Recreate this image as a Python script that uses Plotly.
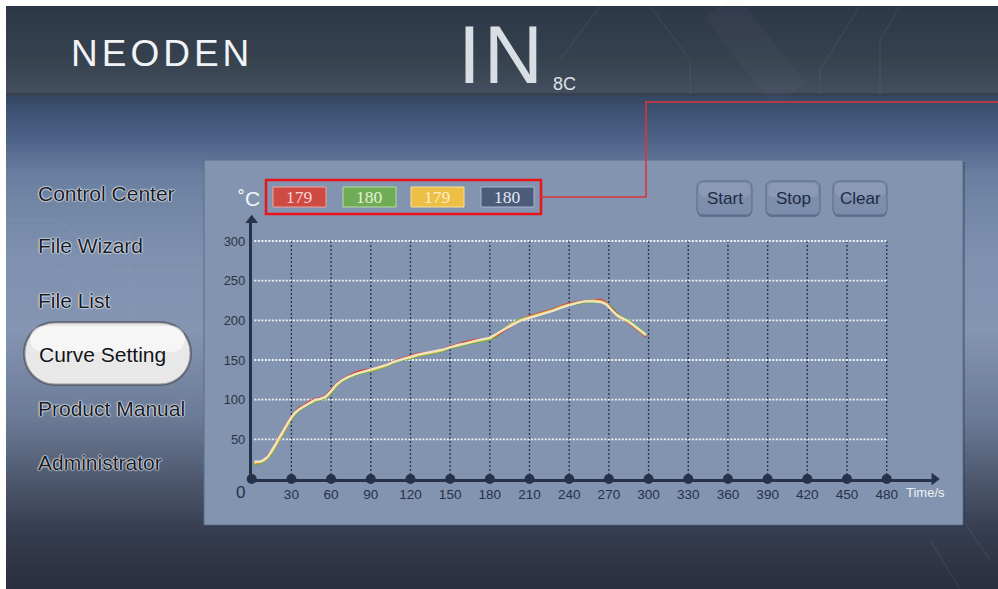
import plotly.graph_objects as go

W, H = 998, 589

# ---------------- data ----------------
time_s = [2, 4, 6, 8, 10, 12, 14, 16, 18, 20, 22, 24, 26, 28, 30, 33, 36, 40, 44, 48,
          52, 56, 60, 64, 68, 72, 78, 84, 90, 96, 102, 108, 114, 120, 126, 132, 138, 144, 150, 156,
          162, 168, 174, 180, 184, 188, 192, 196, 200, 204, 210, 216, 222, 228, 234, 240, 246, 252, 258, 264,
          268, 272, 276, 280, 284, 288, 292, 296, 298]
temp_red = [21, 20, 21, 23, 25, 29, 33, 38, 45, 51, 57, 63, 69, 74, 79, 85, 90, 93, 98, 101,
            102, 105, 112, 120, 125, 129, 134, 137, 138, 141, 144, 149, 152, 155, 158, 159, 161, 163, 167, 170,
            173, 175, 176, 178, 180, 184, 189, 193, 197, 200, 205, 208, 211, 214, 218, 221, 223, 224, 225, 226,
            222, 215, 208, 203, 199, 193, 188, 183, 179]
temp_green = [19, 19, 20, 21, 23, 26, 30, 35, 41, 47, 53, 59, 65, 71, 76, 82, 87, 91, 95, 98,
              100, 102, 108, 117, 123, 126, 131, 134, 136, 139, 142, 147, 150, 152, 155, 157, 159, 161, 165, 167,
              170, 172, 174, 176, 179, 184, 190, 195, 199, 202, 204, 206, 209, 212, 216, 219, 221, 223, 223, 223,
              221, 216, 209, 204, 201, 196, 191, 186, 183]
temp_yellow = [20, 21, 21, 22, 24, 27, 31, 36, 42, 48, 54, 60, 66, 72, 77, 83, 88, 92, 96, 99,
               101, 103, 110, 118, 124, 127, 132, 135, 137, 140, 143, 148, 151, 153, 156, 158, 160, 162, 166, 168,
               171, 173, 175, 177, 181, 186, 191, 195, 198, 201, 204, 207, 210, 213, 217, 220, 222, 224, 225, 224,
               221, 213, 206, 202, 199, 194, 189, 184, 181]
temp_navy = [22, 22, 22, 23, 25, 28, 33, 38, 44, 50, 56, 62, 67, 73, 78, 84, 88, 92, 96, 100,
             101, 104, 111, 119, 124, 128, 132, 135, 138, 141, 144, 148, 151, 154, 157, 159, 161, 163, 166, 169,
             171, 174, 176, 178, 182, 186, 190, 194, 197, 200, 203, 206, 209, 212, 216, 219, 222, 224, 224, 223,
             220, 213, 207, 203, 200, 195, 190, 185, 182]
readouts = ["179", "180", "179", "180"]
x_ticks = [30, 60, 90, 120, 150, 180, 210, 240, 270, 300, 330, 360, 390, 420, 450, 480]
x_marks = [0] + x_ticks
y_ticks = [50, 100, 150, 200, 250, 300]
menu_items = ["Control Center", "File Wizard", "File List", "Curve Setting", "Product Manual", "Administrator"]
button_labels = ["Start", "Stop", "Clear"]

# ---------------- helpers ----------------
SANS = "Liberation Sans, Arial, sans-serif"
SERIF = "Liberation Serif, Times New Roman, serif"


def px(x):
    return x / W


def py(y):
    return 1 - y / H


def hex2rgb(h):
    h = h.lstrip("#")
    return tuple(int(h[i:i + 2], 16) for i in (0, 2, 4))


def mix(c1, c2, t):
    a, b = hex2rgb(c1), hex2rgb(c2)
    return "rgb(%d,%d,%d)" % tuple(round(a[i] + (b[i] - a[i]) * t) for i in range(3))


def grad_bands(x0, x1, stops, step=3):
    out = []
    y = stops[0][0]
    end = stops[-1][0]
    while y < end:
        yc = y + step / 2
        col = stops[-1][1]
        for i in range(len(stops) - 1):
            if stops[i][0] <= yc <= stops[i + 1][0]:
                t = (yc - stops[i][0]) / (stops[i + 1][0] - stops[i][0])
                col = mix(stops[i][1], stops[i + 1][1], t)
                break
        out.append(dict(type="rect", xref="paper", yref="paper", layer="below",
                        x0=px(x0), x1=px(x1), y0=py(min(y + step, end)), y1=py(y),
                        fillcolor=col, line=dict(width=0)))
        y += step
    return out


def P(x, y):
    return "%.5f,%.5f" % (px(x), py(y))


def rrect_path(x0, y0, x1, y1, r):
    k = 0.5523 * r
    return ("M" + P(x0 + r, y0) + " L" + P(x1 - r, y0) +
            " C" + P(x1 - r + k, y0) + " " + P(x1, y0 + r - k) + " " + P(x1, y0 + r) +
            " L" + P(x1, y1 - r) +
            " C" + P(x1, y1 - r + k) + " " + P(x1 - r + k, y1) + " " + P(x1 - r, y1) +
            " L" + P(x0 + r, y1) +
            " C" + P(x0 + r - k, y1) + " " + P(x0, y1 - r + k) + " " + P(x0, y1 - r) +
            " L" + P(x0, y0 + r) +
            " C" + P(x0, y0 + r - k) + " " + P(x0 + r - k, y0) + " " + P(x0 + r, y0) + " Z")


def rrect(x0, y0, x1, y1, r, fill, line=None, lw=0, layer="below"):
    return dict(type="path", xref="paper", yref="paper", layer=layer, path=rrect_path(x0, y0, x1, y1, r),
                fillcolor=fill, line=dict(color=line or fill, width=lw))


def rect(x0, y0, x1, y1, fill, line=None, lw=0, layer="below"):
    return dict(type="rect", xref="paper", yref="paper", layer=layer,
                x0=px(x0), x1=px(x1), y0=py(y1), y1=py(y0),
                fillcolor=fill, line=dict(color=line or fill, width=lw))


def seg(pts, color, width, layer="below", dash=None):
    path = "M" + " L".join(P(x, y) for x, y in pts)
    ln = dict(color=color, width=width)
    if dash:
        ln["dash"] = dash
    return dict(type="path", xref="paper", yref="paper", layer=layer, path=path, line=ln)


shapes = []
# body background
shapes += grad_bands(6, 998, [(95, "#33465f"), (110, "#3d5173"), (140, "#4e6388"), (175, "#6a7fa0"),
                              (260, "#7f91af"), (330, "#8495b2"), (420, "#6a7a95"), (480, "#4d586e"),
                              (530, "#363d50"), (589, "#2a2f3f")])
# header
shapes += grad_bands(6, 998, [(6, "#2c3748"), (60, "#37424f"), (93, "#434e5f"), (96, "#2b3443")], step=3)
# faint circuit decorations
deco = "rgba(160,180,205,0.08)"
shapes += [
    seg([(650, 6), (690, 60), (690, 95)], deco, 1.5),
    seg([(600, 6), (560, 60)], deco, 1.5),
    seg([(720, 6), (790, 95)], "rgba(170,185,210,0.04)", 40),
    seg([(860, 6), (820, 70), (820, 95)], deco, 1.5),
    seg([(900, 6), (880, 40), (880, 95)], deco, 1.5),
    seg([(6, 220), (60, 220), (110, 270), (200, 270)], deco, 2),
    seg([(6, 250), (40, 250), (90, 300), (200, 300)], deco, 2),
    seg([(130, 230), (130, 320)], deco, 2),
    seg([(963, 520), (990, 560)], deco, 2),
    seg([(930, 540), (960, 589)], deco, 2),
]
# chart panel
shapes.append(rect(206, 162, 965, 527, "rgba(30,40,60,0.35)"))
shapes.append(rect(204, 160, 963, 525, "#8294af", "#5c6c87", 1))

# selected menu pill
shapes.append(rrect(23, 321, 192, 386, 32, "#5d6374"))
shapes.append(rrect(25, 323, 190, 384, 30, "#e8e8e8", "#9b9b9b", 1))
shapes.append(rrect(30, 326, 185, 352, 13, "rgba(255,255,255,0.6)"))

# buttons
btn_x = [(697, 752), (766, 820), (833, 887)]
for bx0, bx1 in btn_x:
    shapes.append(rrect(bx0, 183, bx1, 217, 6, "rgba(40,52,75,0.35)"))
    shapes.append(rrect(bx0, 181, bx1, 215, 6, "#7d8ead", "#5b6b87", 1))
    shapes.append(rrect(bx0 + 2, 183, bx1 - 2, 197, 5, "rgba(255,255,255,0.10)"))

# readout boxes
box_x = [273, 343, 411, 481]
box_fill = ["#cf4a43", "#70ab55", "#eebf45", "#4b5b7a"]
box_line = ["#eda59e", "#b9dca2", "#f8e09a", "#a9b5cb"]
for bx, f, l in zip(box_x, box_fill, box_line):
    shapes.append(rect(bx, 187, bx + 53, 207, f, l, 1))
# red frame and connector
shapes.append(dict(type="rect", xref="paper", yref="paper", layer="above",
                   x0=px(266), x1=px(541), y0=py(214), y1=py(180),
                   line=dict(color="#e8141a", width=2.5)))
shapes.append(seg([(541, 197), (646, 197), (646, 102), (998, 102)], "#d8363a", 1.6, layer="above"))

# ---------------- axes geometry ----------------
X0_PX, X480_PX = 251.7, 886.7
PXS = (X480_PX - X0_PX) / 480
XMAX = 516
Y0_PX, Y300_PX = 479, 241
PYS = (Y0_PX - Y300_PX) / 300
YMAX = 326
xdom = [X0_PX / W, (X0_PX + XMAX * PXS) / W]
ydom = [py(Y0_PX), py(Y0_PX - YMAX * PYS)]

fig = go.Figure()

# grid lines
gx, gy = [], []
for t in x_ticks:
    gx += [t, t, None]
    gy += [0, y_ticks[-1], None]
fig.add_trace(go.Scatter(x=gx, y=gy, mode="lines", hoverinfo="skip", showlegend=False,
                         line=dict(color="#2b3852", width=1.4, dash="2px,2px")))
hx, hy = [], []
for v in y_ticks:
    hx += [2, x_ticks[-1], None]
    hy += [v, v, None]
fig.add_trace(go.Scatter(x=hx, y=hy, mode="lines", hoverinfo="skip", showlegend=False,
                         line=dict(color="#eef2f8", width=1.8, dash="2px,1.5px")))

# temperature curves
series = [("CH2", temp_green, "#5fae48"), ("CH1", temp_red, "#d2473e"),
          ("CH3", temp_yellow, "#f0c23c"), ("CH4", temp_navy, "#ece6c6")]
for name, vals, col in series:
    fig.add_trace(go.Scatter(x=time_s, y=vals, mode="lines", name=name, showlegend=False,
                             line=dict(color=col, width=2.2), cliponaxis=False))

# axis tick markers and arrowheads
fig.add_trace(go.Scatter(x=x_marks, y=[0] * len(x_marks), mode="markers", showlegend=False,
                         hoverinfo="skip", cliponaxis=False,
                         marker=dict(size=10, color="#26324a")))
fig.add_trace(go.Scatter(x=[XMAX], y=[0], mode="markers", showlegend=False, hoverinfo="skip",
                         cliponaxis=False, marker=dict(symbol="triangle-right", size=11, color="#26324a")))
fig.add_trace(go.Scatter(x=[0], y=[YMAX], mode="markers", showlegend=False, hoverinfo="skip",
                         cliponaxis=False, marker=dict(symbol="triangle-up", size=11, color="#26324a")))

# ---------------- annotations ----------------
ann = []
ann.append(dict(x=px(69), y=py(54), xref="paper", yref="paper", xanchor="left", yanchor="middle",
                text="<span style='letter-spacing:4px'>NEODEN</span>", showarrow=False,
                font=dict(family=SANS, size=37, color="#f1f3f6")))
ann.append(dict(x=px(456), y=py(55), xref="paper", yref="paper", xanchor="left", yanchor="middle",
                text="<span style='letter-spacing:3px'>IN</span>", showarrow=False,
                font=dict(family=SANS, size=82, color="#d9dde4")))
ann.append(dict(x=px(551), y=py(84), xref="paper", yref="paper", xanchor="left", yanchor="middle",
                text="8C", showarrow=False,
                font=dict(family=SANS, size=18, color="#dde1e8")))

menu_y = [193, 246, 300, 354, 408, 462]
halo = "0 0 1px #f2f5f9, 0 0 1px #f2f5f9, 0 0 2px #e3e9f1, 0 0 2px #e3e9f1"
for label, yy in zip(menu_items, menu_y):
    sel = label == "Curve Setting"
    ann.append(dict(x=px(36 if not sel else 37), y=py(yy), xref="paper", yref="paper",
                    xanchor="left", yanchor="middle", text=label, showarrow=False,
                    font=dict(family=SANS, size=21, color="#111318" if sel else "#161a23",
                              shadow="0 0 2px #ffffff" if sel else halo)))

for (bx0, bx1), lab in zip(btn_x, button_labels):
    ann.append(dict(x=px((bx0 + bx1) / 2), y=py(198), xref="paper", yref="paper",
                    xanchor="center", yanchor="middle", text=lab, showarrow=False,
                    font=dict(family=SANS, size=17, color="#1f2b45")))

box_text = ["#f6d6d2", "#e4f1da", "#fdf0c6", "#e2e8f2"]
for bx, txt, tc in zip(box_x, readouts, box_text):
    ann.append(dict(x=px(bx + 26.5), y=py(197), xref="paper", yref="paper",
                    xanchor="center", yanchor="middle", text=txt, showarrow=False,
                    font=dict(family=SERIF, size=17.5, color=tc)))

ann.append(dict(x=px(249), y=py(198), xref="paper", yref="paper", xanchor="center", yanchor="middle",
                text="˚C", showarrow=False, font=dict(family=SANS, size=21, color="#f4f6fa")))
ann.append(dict(x=px(904), y=py(492), xref="paper", yref="paper", xanchor="left", yanchor="middle",
                text="Time/s", showarrow=False, font=dict(family=SANS, size=13, color="#eef2f8")))
ann.append(dict(x=0, y=0, xref="x", yref="y", xshift=-11, yshift=-13, xanchor="center", yanchor="middle",
                text="0", showarrow=False, font=dict(family=SANS, size=17, color="#26314a")))

fig.update_layout(
    width=W, height=H, autosize=False,
    margin=dict(l=0, r=0, t=0, b=0, pad=0),
    paper_bgcolor="#ffffff", plot_bgcolor="rgba(0,0,0,0)",
    shapes=shapes, annotations=ann, showlegend=False,
    xaxis=dict(domain=xdom, range=[0, XMAX], showgrid=False, zeroline=False,
               showline=True, linecolor="#26324a", linewidth=2.5,
               tickmode="array", tickvals=x_ticks, ticktext=[str(v) for v in x_ticks],
               ticks="outside", ticklen=1, tickcolor="rgba(0,0,0,0)",
               tickfont=dict(family=SANS, size=13.5, color="#26314a"), fixedrange=True),
    yaxis=dict(domain=ydom, range=[0, YMAX], showgrid=False, zeroline=False,
               showline=True, linecolor="#26324a", linewidth=2.5,
               tickmode="array", tickvals=y_ticks, ticktext=[str(v) for v in y_ticks],
               ticks="outside", ticklen=1, tickcolor="rgba(0,0,0,0)",
               tickfont=dict(family=SANS, size=13, color="#2a3448"), fixedrange=True),
)

fig.write_html("out.html", config={"displayModeBar": False},
               post_script="document.body.style.margin='0px';")
